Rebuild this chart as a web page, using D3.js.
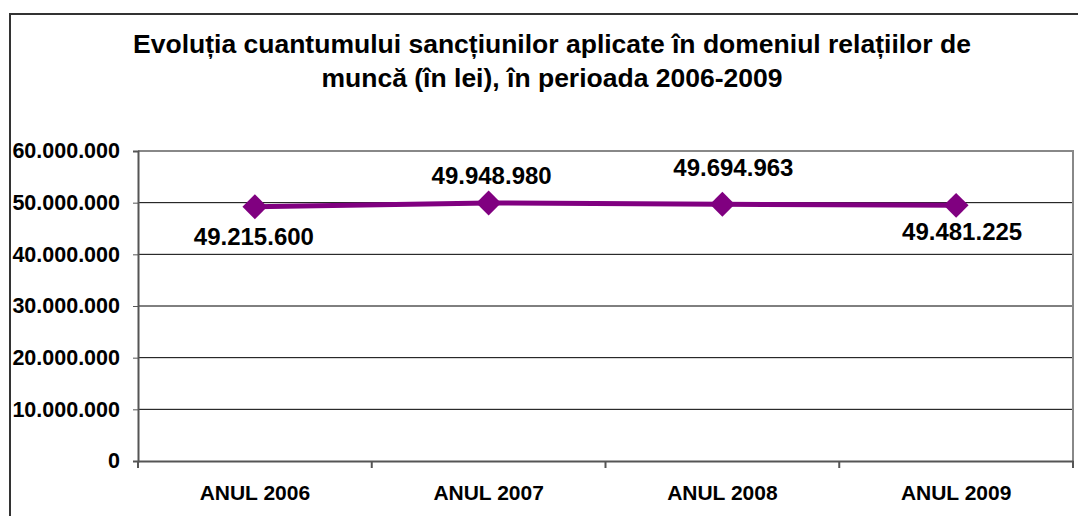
<!DOCTYPE html>
<html>
<head>
<meta charset="utf-8">
<script src="https://cdn.jsdelivr.net/npm/d3@7"></script>
<style>
  body { margin: 0; background: #fff; }
  svg { display: block; font-family: "Liberation Sans", Arial, sans-serif; font-weight: bold; }
</style>
</head>
<body>
<svg id="chart"></svg>
<script>
const WIDTH = 1078;
const HEIGHT = 516;
const MARGINS = {top: 151, bottom: 55, left: 138, right: 5};

// data
const years = ["ANUL 2006", "ANUL 2007", "ANUL 2008", "ANUL 2009"];
const amounts = [49215600, 49948980, 49694963, 49481225];
const yTicks = [0, 10000000, 20000000, 30000000, 40000000, 50000000, 60000000];
const titleLines = [
  "Evoluția cuantumului sancțiunilor aplicate în domeniul relațiilor de",
  "muncă (în lei), în perioada 2006-2009"
];

// where each value label sits relative to its point (dx, baseline dy)
const LABEL_OFFSETS = [[-1, 38], [3, -19], [11, -28], [6, 35]];

const svg = d3.select('#chart')
  .attr('width', WIDTH)
  .attr('height', HEIGHT);

// outer frame (only left and top are visible in the picture)
svg.append('path')
  .attr('d', `M10,${HEIGHT + 5} V14 H${WIDTH + 5}`)
  .attr('fill', 'none')
  .attr('stroke', '#333')
  .attr('stroke-width', 2);

// title
svg.append('text')
  .attr('x', 552)
  .attr('y', 53)
  .style('text-anchor', 'middle')
  .style('font-size', '26.5px')
  .selectAll('tspan')
  .data(titleLines)
  .enter()
  .append('tspan')
  .attr('x', 552)
  .attr('dy', (d, i) => i === 0 ? 0 : 34)
  .text(d => d);

const plotW = WIDTH - MARGINS.left - MARGINS.right;
const plotH = HEIGHT - MARGINS.top - MARGINS.bottom;
const g = svg.append('g').attr('transform', `translate(${MARGINS.left},${MARGINS.top})`);

const x = d3.scaleBand().domain(years).range([0, plotW]);
const y = d3.scaleLinear().domain([0, 60000000]).range([plotH, 0]);

const fmt = v => d3.format(',')(v).replace(/,/g, '.');

// gridlines
g.append('g')
  .selectAll('line')
  .data(yTicks.filter(d => d > 0 && d < 60000000))
  .enter()
  .append('line')
  .attr('x1', 0).attr('x2', plotW)
  .attr('y1', d => y(d)).attr('y2', d => y(d))
  .attr('stroke', '#000')
  .attr('stroke-width', 1);

// plot frame top / right (grey)
g.append('path')
  .attr('d', `M0,0 H${plotW} V${plotH}`)
  .attr('fill', 'none')
  .attr('stroke', '#888')
  .attr('stroke-width', 2);

// y axis
const yAxis = g.append('g')
  .call(d3.axisLeft(y).tickValues(yTicks).tickFormat(fmt).tickSize(5).tickPadding(13));
yAxis.select('.domain').attr('stroke', '#555').attr('stroke-width', 2);
yAxis.selectAll('.tick line').attr('stroke', '#555');
yAxis.selectAll('text')
  .attr('fill', '#000')
  .style('font-size', '21.5px')
  .style('font-family', '"Liberation Sans", Arial, sans-serif')
  .style('font-weight', 'bold');

// x axis
const xAxis = g.append('g')
  .attr('transform', `translate(0,${plotH})`)
  .call(d3.axisBottom(x).tickSize(0).tickPadding(24));
xAxis.select('.domain').attr('stroke', '#555').attr('stroke-width', 2);
xAxis.selectAll('text')
  .attr('fill', '#000')
  .style('font-size', '21px')
  .style('font-family', '"Liberation Sans", Arial, sans-serif')
  .style('font-weight', 'bold');
// category separators
xAxis.append('g')
  .selectAll('line')
  .data(years.concat(['end']))
  .enter()
  .append('line')
  .attr('x1', (d, i) => i * x.step())
  .attr('x2', (d, i) => i * x.step())
  .attr('y1', 0).attr('y2', 7)
  .attr('stroke', '#555')
  .attr('stroke-width', 2);

const cx = d => x(d) + x.bandwidth() / 2;

// line
const line = d3.line()
  .x((d, i) => cx(years[i]))
  .y(d => y(d));

g.append('path')
  .datum(amounts)
  .attr('d', line)
  .attr('fill', 'none')
  .attr('stroke', '#800080')
  .attr('stroke-width', 5);

// diamond markers
g.append('g')
  .selectAll('path')
  .data(amounts)
  .enter()
  .append('path')
  .attr('d', d3.symbol(d3.symbolSquare, 310))
  .attr('transform', (d, i) => `translate(${cx(years[i])},${y(d)}) rotate(45)`)
  .attr('fill', '#800080');

// value labels
g.append('g')
  .selectAll('text')
  .data(amounts)
  .enter()
  .append('text')
  .attr('x', (d, i) => cx(years[i]) + LABEL_OFFSETS[i][0])
  .attr('y', (d, i) => y(d) + LABEL_OFFSETS[i][1])
  .style('text-anchor', 'middle')
  .style('font-size', '24px')
  .text(d => fmt(d));
</script>
</body>
</html>
